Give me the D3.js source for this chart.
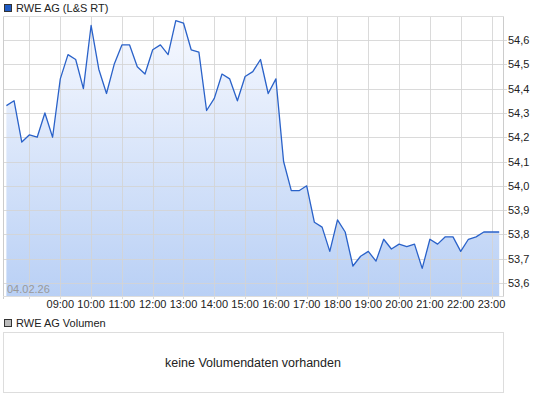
<!DOCTYPE html>
<html>
<head>
<meta charset="utf-8">
<script src="https://cdn.jsdelivr.net/npm/d3@7"></script>
<style>
  body { margin: 0; background: #fff; }
  svg { display: block; font-family: "Liberation Sans", Arial, sans-serif; }
</style>
</head>
<body>
<div id="chart"></div>
<script>
// Kursdaten (15-Minuten-Takt ab 07:15)
const tradeDate = "04.02.26";
const startTime = "2026-02-04T07:15:00";
const stepMinutes = 15;
const prices = [
  54.33, 54.35, 54.18, 54.21, 54.20, 54.30, 54.20, 54.44, 54.54, 54.52,
  54.40, 54.66, 54.48, 54.38, 54.50, 54.58, 54.58, 54.49, 54.46, 54.56,
  54.58, 54.54, 54.68, 54.67, 54.56, 54.55, 54.31, 54.36, 54.46, 54.44,
  54.35, 54.45, 54.47, 54.52, 54.38, 54.44, 54.10, 53.98, 53.98, 54.00,
  53.85, 53.83, 53.73, 53.86, 53.81, 53.67, 53.71, 53.73, 53.69, 53.78,
  53.74, 53.76, 53.75, 53.76, 53.66, 53.78, 53.76, 53.79, 53.79, 53.73,
  53.78, 53.79, 53.81, 53.81, 53.81
];
const yTicks = [53.6, 53.7, 53.8, 53.9, 54.0, 54.1, 54.2, 54.3, 54.4, 54.5, 54.6];
const gridHours = [8, 9, 10, 11, 12, 13, 14, 15, 16, 17, 18, 19, 20, 21, 22, 23];
const labelHours = [9, 10, 11, 12, 13, 14, 15, 16, 17, 18, 19, 20, 21, 22, 23];

const W = 545, H = 401;
const plot = { left: 3, right: 503, top: 16, bottom: 296 };
const vol = { top: 332, bottom: 392 };

const t0 = new Date(startTime);
const data = prices.map((p, i) => ({ t: new Date(t0.getTime() + i * stepMinutes * 60000), v: p }));
const at = h => new Date(2026, 1, 4, h, 0, 0);

const x = d3.scaleTime()
  .domain([new Date(2026, 1, 4, 7, 8, 24), new Date(2026, 1, 4, 23, 22, 24)])
  .range([plot.left, plot.right]);
const y = d3.scaleLinear()
  .domain([53.5465, 54.699])
  .range([plot.bottom, plot.top]);

const svg = d3.select("#chart").append("svg").attr("width", W).attr("height", H);

const defs = svg.append("defs");
const grad = defs.append("linearGradient").attr("id", "areaGrad")
  .attr("x1", 0).attr("y1", 0).attr("x2", 0).attr("y2", 1);
grad.append("stop").attr("offset", "0%").attr("stop-color", "#f7f9ff");
grad.append("stop").attr("offset", "100%").attr("stop-color", "#b9d0f5");
defs.append("clipPath").attr("id", "plotClip").append("rect")
  .attr("x", plot.left).attr("y", plot.top)
  .attr("width", plot.right - plot.left).attr("height", plot.bottom - plot.top);

// Legende oben
svg.append("rect").attr("x", 4.5).attr("y", 4.5).attr("width", 7).attr("height", 7)
  .attr("fill", "#1f5bc4").attr("stroke", "#333").attr("stroke-width", 1);
svg.append("text").attr("x", 16).attr("y", 12).attr("font-size", 11).attr("fill", "#222")
  .text("RWE AG (L&S RT)");

// Fläche (unter dem Gitter)
const area = d3.area().x(d => x(d.t)).y0(plot.bottom).y1(d => y(d.v));
svg.append("path").datum(data).attr("d", area)
  .attr("fill", "url(#areaGrad)").attr("clip-path", "url(#plotClip)");

// Gitter
const grid = svg.append("g").attr("stroke", "#d4d4d4").attr("stroke-width", 1)
  .attr("stroke-opacity", 0.85);
grid.selectAll("line.h").data(yTicks).join("line")
  .attr("x1", plot.left).attr("x2", plot.right + 4)
  .attr("y1", d => Math.round(y(d)) + 0.5).attr("y2", d => Math.round(y(d)) + 0.5);
grid.selectAll("line.v").data(gridHours).join("line")
  .attr("y1", plot.top).attr("y2", plot.bottom + 3)
  .attr("x1", d => Math.round(x(at(d))) + 0.5).attr("x2", d => Math.round(x(at(d))) + 0.5);

// Rahmen
svg.append("line").attr("x1", plot.left + 0.5).attr("x2", plot.left + 0.5)
  .attr("y1", plot.top).attr("y2", plot.bottom + 3).attr("stroke", "#ccc");
svg.append("line").attr("x1", plot.right + 0.5).attr("x2", plot.right + 0.5)
  .attr("y1", plot.top).attr("y2", plot.bottom).attr("stroke", "#ccc");
svg.append("line").attr("x1", plot.left).attr("x2", plot.right + 1)
  .attr("y1", plot.top + 0.5).attr("y2", plot.top + 0.5).attr("stroke", "#ddd");
svg.append("line").attr("x1", plot.left).attr("x2", plot.right + 1)
  .attr("y1", plot.bottom + 0.5).attr("y2", plot.bottom + 0.5).attr("stroke", "#ddd");

// Kurslinie
const line = d3.line().x(d => x(d.t)).y(d => y(d.v));
svg.append("path").datum(data).attr("d", line)
  .attr("fill", "none").attr("stroke", "#2a62c9").attr("stroke-width", 1.3)
  .attr("stroke-linejoin", "round");

// Achsenbeschriftung rechts
const fmt = d3.format(".1f");
svg.append("g").selectAll("text").data(yTicks).join("text")
  .attr("x", 508).attr("y", d => y(d) + 4)
  .attr("font-size", 11).attr("fill", "#222")
  .text(d => fmt(d).replace(".", ","));

// Zeitachse
svg.append("g").selectAll("text").data(labelHours).join("text")
  .attr("x", d => x(at(d))).attr("y", 308)
  .attr("text-anchor", "middle").attr("font-size", 11).attr("fill", "#222")
  .text(d => d3.timeFormat("%H:%M")(at(d)));

svg.append("text").attr("x", 7).attr("y", 293).attr("font-size", 11).attr("fill", "#999")
  .text(tradeDate);

// Volumen-Panel
svg.append("rect").attr("x", 4.5).attr("y", 319.5).attr("width", 7).attr("height", 7)
  .attr("fill", "#bbb").attr("stroke", "#333").attr("stroke-width", 1);
svg.append("text").attr("x", 16).attr("y", 327).attr("font-size", 11).attr("fill", "#222")
  .text("RWE AG Volumen");
svg.append("rect").attr("x", plot.left + 0.5).attr("y", vol.top + 0.5)
  .attr("width", plot.right - plot.left).attr("height", vol.bottom - vol.top)
  .attr("fill", "none").attr("stroke", "#ddd");
svg.append("text").attr("x", (plot.left + plot.right) / 2).attr("y", 367)
  .attr("text-anchor", "middle").attr("font-size", 12.5).attr("fill", "#222")
  .text("keine Volumendaten vorhanden");
</script>
</body>
</html>
